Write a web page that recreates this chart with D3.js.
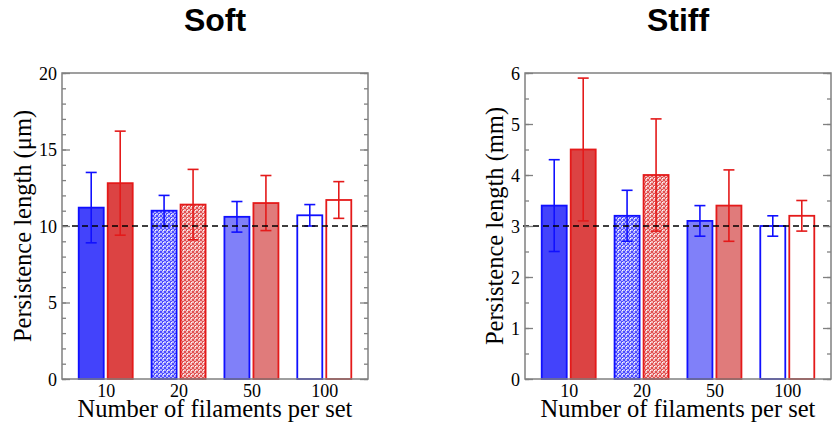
<!DOCTYPE html>
<html>
<head>
<meta charset="utf-8">
<script src="https://cdn.jsdelivr.net/npm/d3@7"></script>
<style>
  body { margin: 0; background: #fff; }
  svg { display: block; }
  .tick text { font-family: "Liberation Serif", "DejaVu Serif", serif; font-size: 18px; fill: #000; }
  .axis-label { font-family: "Liberation Serif", "DejaVu Serif", serif; font-size: 24.5px; fill: #000; }
  .title { font-family: "Liberation Sans", Arial, sans-serif; font-size: 32px; font-weight: bold; }
</style>
</head>
<body>
<div id="chart"></div>
<script>
/*
 *  DATA
 */
var categories = ["10", "20", "50", "100"];

// soft filaments, values in um
var soft_blue = [11.2, 11.0, 10.6, 10.7];
var soft_blue_err = [2.3, 1.0, 1.0, 0.7];
var soft_red = [12.8, 11.4, 11.5, 11.7];
var soft_red_err = [3.4, 2.3, 1.8, 1.2];
var soft_reference = 10;

// stiff filaments, values in mm
var stiff_blue = [3.4, 3.2, 3.1, 3.0];
var stiff_blue_err = [0.9, 0.5, 0.3, 0.2];
var stiff_red = [4.5, 4.0, 3.4, 3.2];
var stiff_red_err = [1.4, 1.1, 0.7, 0.3];
var stiff_reference = 3;

/*
 *  DECLARATION BLOCK
 */
var total_width = 832, total_height = 425;
var plot_width = 306, plot_height = 306;

var blue_fills = ["#4343fb", "url(#pat_blue)", "#8080f9", "#ffffff"];
var red_fills = ["#dc4343", "url(#pat_red)", "#e07b7b", "#ffffff"];
var blue_stroke = "#1010ff";
var red_stroke = "#e41a1a";

var svg = d3.select("#chart")
    .append("svg")
        .attr("width", total_width)
        .attr("height", total_height);

// checkered fills for the 20-filament bars
var defs = svg.append("defs");
function make_pattern(id, dark, light) {
    var p = defs.append("pattern")
        .attr("id", id)
        .attr("width", 4)
        .attr("height", 4)
        .attr("patternUnits", "userSpaceOnUse");
    p.append("rect").attr("width", 4).attr("height", 4).attr("fill", light);
    p.append("rect").attr("x", 0).attr("y", 0).attr("width", 2).attr("height", 2).attr("fill", dark);
    p.append("rect").attr("x", 2).attr("y", 2).attr("width", 2).attr("height", 2).attr("fill", dark);
    p.append("rect").attr("x", 1).attr("y", 1).attr("width", 1).attr("height", 1).attr("fill", "#ffffff");
}
make_pattern("pat_blue", "#4a4aff", "#b4b4ff");
make_pattern("pat_red", "#e05050", "#f4b8b8");


function draw_panel(opts) {
    var g = svg.append("g")
        .attr("transform", "translate(" + opts.left + "," + opts.top + ")");

    var x_scale = d3.scalePoint()
        .domain(categories)
        .range([0, plot_width])
        .padding(0.6);
    var y_scale = d3.scaleLinear()
        .domain([0, opts.ymax])
        .range([plot_height, 0]);

    var bar_w = 25, gap = 4;

    // bars
    categories.forEach(function(c, i) {
        var cx = x_scale(c);
        var pairs = [
            {v: opts.blue[i], e: opts.blue_err[i], fill: blue_fills[i], stroke: blue_stroke, x: cx - gap/2 - bar_w},
            {v: opts.red[i], e: opts.red_err[i], fill: red_fills[i], stroke: red_stroke, x: cx + gap/2}
        ];
        pairs.forEach(function(d) {
            g.append("rect")
                .attr("x", d.x)
                .attr("y", y_scale(d.v))
                .attr("width", bar_w)
                .attr("height", plot_height - y_scale(d.v))
                .attr("fill", d.fill)
                .attr("stroke", d.stroke)
                .attr("stroke-width", 1.8);
        });
        pairs.forEach(function(d) {
            var mx = d.x + bar_w/2;
            var lo = y_scale(d.v - d.e), hi = y_scale(d.v + d.e);
            g.append("line")
                .attr("x1", mx).attr("x2", mx)
                .attr("y1", lo).attr("y2", hi)
                .attr("stroke", d.stroke).attr("stroke-width", 1.6);
            [lo, hi].forEach(function(yy) {
                g.append("line")
                    .attr("x1", mx - 5.5).attr("x2", mx + 5.5)
                    .attr("y1", yy).attr("y2", yy)
                    .attr("stroke", d.stroke).attr("stroke-width", 1.6);
            });
        });
    });

    // reference dashed line
    g.append("line")
        .attr("x1", opts.dash_start).attr("x2", plot_width)
        .attr("y1", y_scale(opts.reference)).attr("y2", y_scale(opts.reference))
        .attr("stroke", "#000")
        .attr("stroke-width", 1.5)
        .attr("stroke-dasharray", "6,4");

    // frame
    g.append("rect")
        .attr("width", plot_width)
        .attr("height", plot_height)
        .attr("fill", "none")
        .attr("stroke", "#808080")
        .attr("stroke-width", 1.5);

    // y ticks, pointing inward on both sides
    var minor = d3.range(0, opts.ymax + 1e-9, opts.minor_step);
    g.append("g")
        .call(d3.axisLeft(y_scale).tickValues(minor).tickSize(-4).tickFormat(""))
        .call(function(a) { a.select(".domain").remove(); })
        .selectAll("line").attr("stroke", "#808080").attr("stroke-width", 1.3);
    g.append("g")
        .attr("transform", "translate(" + plot_width + ",0)")
        .call(d3.axisRight(y_scale).tickValues(minor).tickSize(-4).tickFormat(""))
        .call(function(a) { a.select(".domain").remove(); })
        .selectAll("line").attr("stroke", "#808080").attr("stroke-width", 1.3);

    var y_axis = g.append("g")
        .call(d3.axisLeft(y_scale).tickValues(opts.major).tickSize(-8).tickPadding(5)
            .tickFormat(d3.format("d")));
    y_axis.select(".domain").remove();
    y_axis.selectAll("line").attr("stroke", "#808080").attr("stroke-width", 1.3);
    y_axis.selectAll("text").attr("dy", "0.35em");

    var y_axis_r = g.append("g")
        .attr("transform", "translate(" + plot_width + ",0)")
        .call(d3.axisRight(y_scale).tickValues(opts.major).tickSize(-8).tickFormat(""));
    y_axis_r.select(".domain").remove();
    y_axis_r.selectAll("line").attr("stroke", "#808080").attr("stroke-width", 1.3);

    // x axis labels only
    var x_axis = g.append("g")
        .attr("transform", "translate(0," + plot_height + ")")
        .call(d3.axisBottom(x_scale).tickSize(0).tickPadding(5));
    x_axis.select(".domain").remove();

    // labels
    g.append("text")
        .attr("class", "axis-label")
        .attr("transform", "translate(" + opts.ylabel_x + "," + plot_height/2 + ")rotate(-90)")
        .attr("text-anchor", "middle")
        .text(opts.ylabel);

    g.append("text")
        .attr("class", "axis-label")
        .attr("x", plot_width/2)
        .attr("y", plot_height + 38)
        .attr("text-anchor", "middle")
        .text("Number of filaments per set");

    g.append("text")
        .attr("class", "title")
        .attr("x", plot_width/2)
        .attr("y", 31 - opts.top)
        .attr("text-anchor", "middle")
        .text(opts.title);
}

draw_panel({
    left: 62, top: 73, ymax: 20, major: [0, 5, 10, 15, 20], minor_step: 1,
    blue: soft_blue, blue_err: soft_blue_err, red: soft_red, red_err: soft_red_err,
    reference: soft_reference, title: "Soft", dash_start: 0,
    ylabel: "Persistence length (\u03bcm)", ylabel_x: -31
});

draw_panel({
    left: 525, top: 73, ymax: 6, major: [0, 1, 2, 3, 4, 5, 6], minor_step: 0.5,
    blue: stiff_blue, blue_err: stiff_blue_err, red: stiff_red, red_err: stiff_red_err,
    reference: stiff_reference, title: "Stiff", dash_start: -2,
    ylabel: "Persistence length (mm)", ylabel_x: -22
});
</script>
</body>
</html>
